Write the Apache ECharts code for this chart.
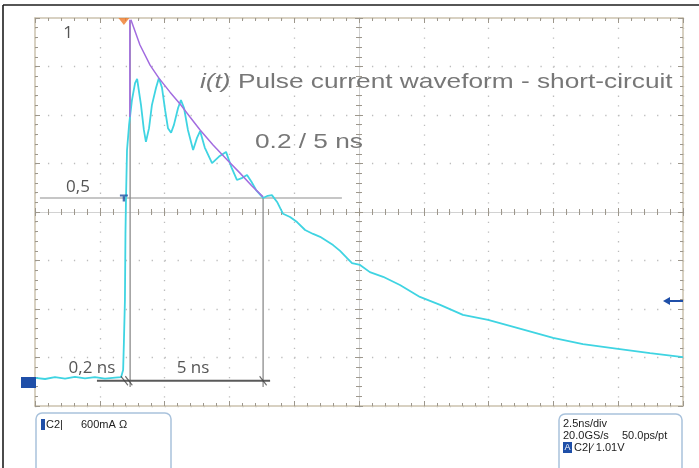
<!DOCTYPE html>
<html><head><meta charset="utf-8">
<script src="https://cdn.jsdelivr.net/npm/echarts@6/dist/echarts.min.js"></script>
<style>html,body{margin:0;padding:0;background:#fff}#c{width:699px;height:468px}</style>
</head><body><div id="c"></div>
<script>
// Time in ns (2.5 ns/div), current normalised to the peak envelope (1 = peak)
const traceTime = [0,0.39,0.77,1.16,1.54,1.93,2.31,2.70,3.09,3.32,3.40,3.43,3.47,3.49,3.51,3.55,3.63,3.74,3.86,3.94,4.09,4.20,4.28,4.40,4.51,4.67,4.78,4.90,5.02,5.13,5.25,5.36,5.52,5.63,5.75,5.90,6.10,6.25,6.37,6.55,6.83,7.10,7.37,7.58,7.79,8.00,8.18,8.35,8.53,8.80,8.98,9.14,9.34,9.57,9.84,10.11,10.42,10.73,11.00,11.50,11.77,12.04,12.23,12.54,12.92,13.43,14.08,14.85,15.63,16.51,17.48,18.60,19.99,21.14,22.49,23.73,25.00];
const traceCurrent = [0.000,-0.003,0.002,-0.002,0.003,-0.001,0.002,-0.002,0.001,0.002,0.022,0.100,0.217,0.400,0.494,0.633,0.703,0.772,0.819,0.831,0.758,0.689,0.656,0.694,0.758,0.806,0.833,0.806,0.744,0.694,0.681,0.703,0.750,0.772,0.750,0.689,0.633,0.667,0.686,0.640,0.597,0.615,0.628,0.585,0.550,0.556,0.564,0.545,0.522,0.500,0.506,0.508,0.489,0.456,0.447,0.433,0.411,0.400,0.392,0.369,0.353,0.333,0.319,0.314,0.294,0.281,0.258,0.225,0.203,0.175,0.161,0.139,0.111,0.094,0.081,0.069,0.058];
const envelopeTime = [3.70,4.05,4.44,4.78,5.21,5.63,5.98,6.37,6.87,7.41,7.91,8.37,8.80];
const envelopeCurrent = [0.995,0.925,0.869,0.833,0.794,0.758,0.725,0.689,0.647,0.606,0.569,0.533,0.503];
const envelopeStem = [[3.66,0.995],[3.66,0.725]];
const cursorTimes = [3.67, 8.80];
const cursorTops = [0.994, 0.5];
const cursorBottom = -0.025;
const halfLevel = 0.5;
const halfLineSpan = [0.19, 11.84];
const dimensionLevel = -0.008;
const dimensionSpan = [2.39, 9.07];
const slashTimes = [3.45, 3.62, 8.80];
const triggerTime = 3.43;
const triggerTop = 0.99;
const yRange = [-0.078, 1.0];
const xRange = [0, 25];
const divX = [-5, 5];
const divY = [-4, 4];
const labelsText = {one:'1', half:'0,5', rise:'0,2 ns', fall:'5 ns'};
const titleText = 'i(t)';
const titleRest = ' Pulse current waveform - short-circuit';
const subTitle = '0.2 / 5 ns';

const zip = (a,b)=>a.map((v,i)=>[v,b[i]]);
const G = {left:35, top:18, width:648, height:388, containLabel:false, outerBoundsMode:'none'};
const frameColor = '#cbc2ae';
const tickColor = '#9d978c';
const dotColor = '#bdbdbd';

function frameX(grid, pos, split){
  return {gridIndex:grid, type:'value', min:divX[0], max:divX[1], interval:1, position:pos,
    axisLine:{show:true,onZero:false,lineStyle:{color:frameColor,width:1.5}},
    axisTick:{show:true,inside:true,length:5,lineStyle:{color:tickColor}},
    minorTick:{show:true,splitNumber:5,length:3,lineStyle:{color:tickColor}},
    axisLabel:{show:false},
    splitLine:{show:split,lineStyle:{color:dotColor,width:1.3,type:[1.3,8.4]}}};
}
function frameY(grid, pos, split){
  return {gridIndex:grid, type:'value', min:divY[0], max:divY[1], interval:1, position:pos,
    axisLine:{show:true,onZero:false,lineStyle:{color:frameColor,width:1.5}},
    axisTick:{show:true,inside:true,length:5,lineStyle:{color:tickColor}},
    minorTick:{show:true,splitNumber:5,length:3,lineStyle:{color:tickColor}},
    axisLabel:{show:false},
    splitLine:{show:split,lineStyle:{color:dotColor,width:1.3,type:[1.3,11.66]}}};
}
function centerX(grid, inside){
  return {gridIndex:grid, type:'value', min:divX[0], max:divX[1], interval:1,
    axisLine:{show:true,onZero:true,lineStyle:{color:'#d2d2d2',width:1}},
    axisTick:{show:true,inside:inside,length:4,lineStyle:{color:tickColor}},
    minorTick:{show:true,splitNumber:5,length:3,lineStyle:{color:tickColor}},
    axisLabel:{show:false}, splitLine:{show:false}};
}
function centerY(grid, inside){
  return {gridIndex:grid, type:'value', min:divY[0], max:divY[1], interval:1,
    axisLine:{show:true,onZero:true,lineStyle:{color:'#d2d2d2',width:1}},
    axisTick:{show:true,inside:inside,length:4,lineStyle:{color:tickColor}},
    minorTick:{show:true,splitNumber:5,length:3,lineStyle:{color:tickColor}},
    axisLabel:{show:false}, splitLine:{show:false}};
}
function line(data, color, width, z){
  return {type:'line', xAxisIndex:0, yAxisIndex:0, data, symbol:'none', silent:true, z:z||2,
    lineStyle:{color, width}, animation:false};
}

const labelFont = '17px "Open Sans", sans-serif';
const option = {
  animation:false,
  backgroundColor:'#ffffff',
  grid:[G,G,G,G,G],
  xAxis:[
    {gridIndex:0,type:'value',min:xRange[0],max:xRange[1],show:false},
    frameX(1,'bottom',true), frameX(2,'top',false), centerX(3,false), centerX(4,true)
  ],
  yAxis:[
    {gridIndex:0,type:'value',min:yRange[0],max:yRange[1],show:false},
    frameY(1,'left',true), frameY(2,'right',false), centerY(3,false), centerY(4,true)
  ],
  series:[
    line([[halfLineSpan[0],halfLevel],[halfLineSpan[1],halfLevel]], '#b3b3b3', 1.5, 3),
    line([[cursorTimes[0],cursorTops[0]],[cursorTimes[0],cursorBottom]], '#8c8c8c', 1.3, 3),
    line([[cursorTimes[1],cursorTops[1]],[cursorTimes[1],cursorBottom]], '#8c8c8c', 1.3, 3),
    line([[dimensionSpan[0],dimensionLevel],[dimensionSpan[1],dimensionLevel]], '#5a5a5a', 2, 4),
    line(zip(traceTime, traceCurrent), '#3fd4e2', 1.8, 5),
    line(zip(envelopeTime, envelopeCurrent), '#a36de0', 1.5, 6),
    line(envelopeStem, '#a36de0', 1.5, 6),
    {type:'scatter', xAxisIndex:0, yAxisIndex:0, silent:true, z:7, animation:false,
      symbol:'path://M0,0L10,10', symbolSize:[7,9],
      itemStyle:{color:'none', borderColor:'#444', borderWidth:1.2},
      data: slashTimes.map(t=>[t, dimensionLevel])},
    {type:'scatter', xAxisIndex:0, yAxisIndex:0, silent:true, z:8, animation:false,
      symbol:'triangle', symbolRotate:180, symbolSize:[11,7], itemStyle:{color:'#ef7a2a'},
      data:[[triggerTime, triggerTop]]},
    {type:'scatter', xAxisIndex:0, yAxisIndex:0, silent:true, z:8, animation:false,
      symbol:'path://M0,0H10V3H6.5V10H3.5V3H0Z', symbolSize:[8,7], itemStyle:{color:'#1f4fa0'},
      data:[[triggerTime, halfLevel]]}
  ],
  graphic:[
    {type:'line', shape:{x1:3,y1:5,x2:699,y2:5}, style:{stroke:'#1e1e1e',lineWidth:1.6}, z:100},
    {type:'line', shape:{x1:3,y1:5,x2:3,y2:468}, style:{stroke:'#1e1e1e',lineWidth:1.6}, z:100},
    {type:'text', x:68, y:33, style:{text:labelsText.one, font:labelFont, fill:'#555', textAlign:'center', textVerticalAlign:'middle'}, z:50},
    {type:'text', x:78, y:187, style:{text:labelsText.half, font:labelFont, fill:'#555', textAlign:'center', textVerticalAlign:'middle'}, z:50},
    {type:'text', x:92, y:368, style:{text:labelsText.rise, font:labelFont, fill:'#555', textAlign:'center', textVerticalAlign:'middle'}, z:50},
    {type:'text', x:193, y:368, style:{text:labelsText.fall, font:labelFont, fill:'#555', textAlign:'center', textVerticalAlign:'middle'}, z:50},
    {type:'text', x:200, y:82, scaleX:1.25, style:{text:'{i|'+titleText+'}'+titleRest, font:'21px "Liberation Sans", Arial, sans-serif', fill:'#777', textAlign:'left', textVerticalAlign:'middle',
      rich:{i:{fontStyle:'italic', fontSize:21, fontFamily:'"Liberation Sans", Arial, sans-serif', fill:'#777'}}}, z:50},
    {type:'text', x:255, y:142, scaleX:1.25, style:{text:subTitle, font:'21px "Liberation Sans", Arial, sans-serif', fill:'#777', textAlign:'left', textVerticalAlign:'middle'}, z:50},
    // ground marker & level arrow
    {type:'rect', shape:{x:21,y:377,width:15,height:11}, style:{fill:'#1f4fa8'}, z:60},
    {type:'line', shape:{x1:668,y1:301,x2:683,y2:301}, style:{stroke:'#1f4fa8',lineWidth:2}, z:60},
    {type:'polygon', shape:{points:[[663,301],[670,297],[670,305]]}, style:{fill:'#1f4fa8'}, z:60},
    // bottom boxes
    {type:'rect', shape:{x:36,y:413,width:135,height:70,r:6}, style:{fill:'#fff',stroke:'#a9c2dc',lineWidth:1.5}, z:60},
    {type:'rect', shape:{x:41,y:419,width:4,height:11}, style:{fill:'#1f4fa8'}, z:61},
    {type:'text', x:46, y:425, style:{text:'C2|', font:'11px "Liberation Sans", Arial, sans-serif', fill:'#222', textVerticalAlign:'middle'}, z:61},
    {type:'text', x:81, y:425, style:{text:'600mA Ω', font:'11px "Liberation Sans", Arial, sans-serif', fill:'#222', textVerticalAlign:'middle'}, z:61},
    {type:'rect', shape:{x:559,y:414,width:123,height:70,r:6}, style:{fill:'#fff',stroke:'#a9c2dc',lineWidth:1.5}, z:60},
    {type:'text', x:563, y:424, style:{text:'2.5ns/div', font:'11px "Liberation Sans", Arial, sans-serif', fill:'#222', textVerticalAlign:'middle'}, z:61},
    {type:'text', x:563, y:436, style:{text:'20.0GS/s', font:'11px "Liberation Sans", Arial, sans-serif', fill:'#222', textVerticalAlign:'middle'}, z:61},
    {type:'text', x:622, y:436, style:{text:'50.0ps/pt', font:'11px "Liberation Sans", Arial, sans-serif', fill:'#222', textVerticalAlign:'middle'}, z:61},
    {type:'rect', shape:{x:563,y:442,width:9,height:11}, style:{fill:'#1f4fa8'}, z:61},
    {type:'text', x:567.5, y:448, style:{text:'A', font:'9px "Liberation Sans", Arial, sans-serif', fill:'#fff', textAlign:'center', textVerticalAlign:'middle'}, z:62},
    {type:'text', x:574, y:448, style:{text:'C2|∕ 1.01V', font:'11px "Liberation Sans", Arial, sans-serif', fill:'#222', textVerticalAlign:'middle'}, z:61}
  ]
};
const chart = echarts.init(document.getElementById('c'));
chart.setOption(option);
</script></body></html>
